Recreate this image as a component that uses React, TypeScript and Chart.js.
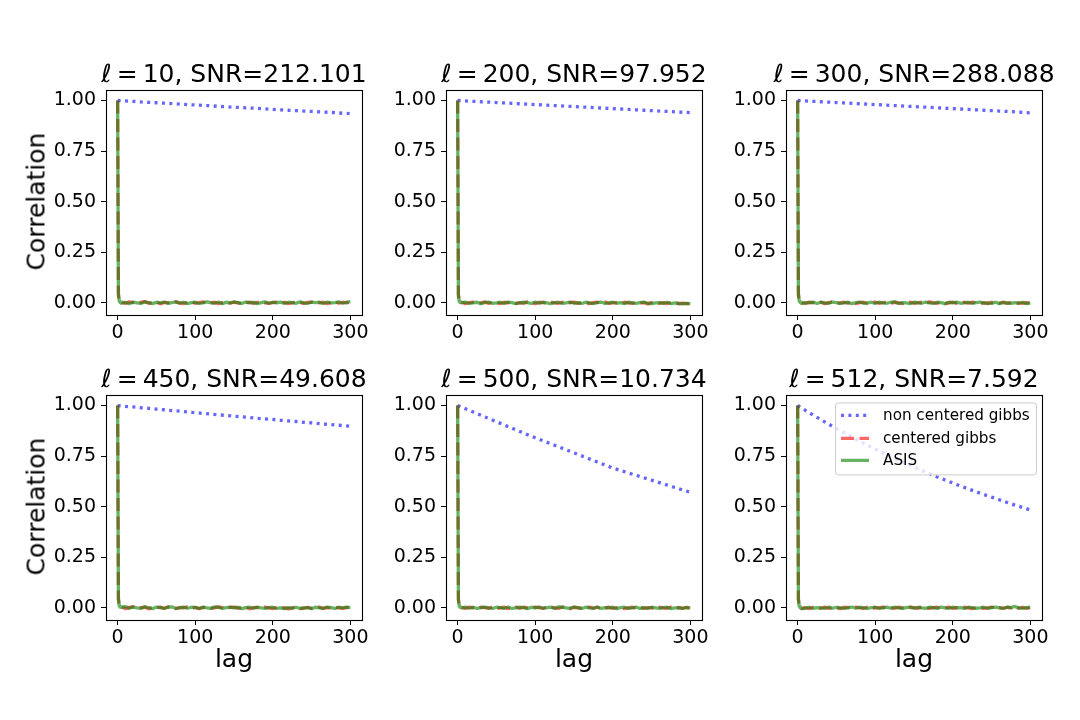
import { useEffect, useRef } from "react";
import { Chart, LineController, LineElement, PointElement, LinearScale } from "chart.js";

Chart.register(LineController, LineElement, PointElement, LinearScale);

// lags
const LAG_SLOW = [0, 10, 20, 30, 40, 50, 60, 70, 80, 90, 100, 110, 120, 130, 140, 150, 160, 170, 180, 190, 200, 210, 220, 230, 240, 250, 260, 270, 280, 290, 300];
const LAG_FAST = [0, 1, 2, 3,
  5, 10, 15, 20, 25, 30, 35, 40, 45, 50,
  55, 60, 65, 70, 75, 80, 85, 90, 95, 100,
  105, 110, 115, 120, 125, 130, 135, 140, 145, 150,
  155, 160, 165, 170, 175, 180, 185, 190, 195, 200,
  205, 210, 215, 220, 225, 230, 235, 240, 245, 250,
  255, 260, 265, 270, 275, 280, 285, 290, 295, 300];

const X_TICKS = [0, 100, 200, 300];
const Y_TICKS = [0, 0.25, 0.5, 0.75, 1];

const ELLS = [10, 200, 300, 450, 500, 512];
const SNRS = ["212.101", "97.952", "288.088", "49.608", "10.734", "7.592"];
const LABELS = ["non centered gibbs", "centered gibbs", "ASIS"];

// non centered gibbs
const NC_10 = [1.000, 0.998, 0.996, 0.993, 0.991, 0.989, 0.987, 0.985, 0.982, 0.980, 0.978, 0.976, 0.974, 0.971, 0.969, 0.967, 0.965, 0.963, 0.961, 0.959, 0.956, 0.954, 0.952, 0.950, 0.948, 0.946, 0.944, 0.942, 0.940, 0.937, 0.935];
const NC_200 = [1.000, 0.998, 0.996, 0.994, 0.992, 0.990, 0.988, 0.986, 0.984, 0.982, 0.980, 0.978, 0.976, 0.974, 0.972, 0.970, 0.968, 0.966, 0.964, 0.962, 0.960, 0.958, 0.956, 0.954, 0.952, 0.950, 0.948, 0.946, 0.944, 0.942, 0.940];
const NC_300 = [1.000, 0.998, 0.996, 0.994, 0.992, 0.990, 0.988, 0.986, 0.984, 0.982, 0.980, 0.978, 0.976, 0.974, 0.972, 0.970, 0.968, 0.966, 0.964, 0.962, 0.960, 0.958, 0.956, 0.954, 0.952, 0.950, 0.948, 0.946, 0.944, 0.941, 0.939];
const NC_450 = [1.000, 0.996, 0.993, 0.989, 0.986, 0.982, 0.979, 0.975, 0.972, 0.968, 0.965, 0.961, 0.958, 0.954, 0.951, 0.947, 0.944, 0.941, 0.937, 0.934, 0.931, 0.927, 0.924, 0.921, 0.917, 0.914, 0.911, 0.907, 0.904, 0.901, 0.897];
const NC_500 = [1.000, 0.984, 0.968, 0.952, 0.936, 0.920, 0.904, 0.888, 0.872, 0.856, 0.841, 0.826, 0.811, 0.796, 0.781, 0.766, 0.751, 0.736, 0.721, 0.706, 0.691, 0.679, 0.667, 0.655, 0.643, 0.631, 0.619, 0.607, 0.595, 0.583, 0.571];
const NC_512 = [1.000, 0.976, 0.953, 0.930, 0.908, 0.886, 0.865, 0.844, 0.824, 0.804, 0.785, 0.766, 0.748, 0.730, 0.713, 0.696, 0.679, 0.663, 0.647, 0.632, 0.617, 0.602, 0.588, 0.574, 0.560, 0.547, 0.534, 0.521, 0.508, 0.496, 0.484];

// centered gibbs
const CG_10 = [1, 0.045, 0.012, 0.004,
  0.004, -0.003, 0.005, 0.001, -0.004, 0.003, 0.006, -0.002, 0.000, 0.004,
  -0.005, 0.002, 0.001, -0.003, 0.005, 0.000, -0.004, 0.003, 0.004, -0.002,
  0.001, 0.005, -0.003, 0.000, 0.003, -0.004, 0.001, 0.004, -0.002, 0.003,
  0.000, -0.005, 0.001, 0.004, -0.003, 0.002, 0.005, 0.000, -0.003, 0.001,
  0.004, -0.002, 0.003, -0.004, 0.000, 0.005, 0.001, -0.003, 0.002, 0.004,
  -0.002, 0.000, 0.003, -0.004, 0.001, 0.005, -0.002, 0.003, 0.000, 0.004];
const CG_200 = [1, 0.040, 0.011, 0.003,
  0.003, -0.004, 0.001, 0.004, -0.002, 0.000, 0.005, -0.003, 0.002, 0.001,
  -0.004, 0.003, 0.000, 0.004, -0.003, 0.001, -0.002, 0.005, 0.000, -0.004,
  0.003, 0.001, -0.003, 0.004, 0.000, -0.002, 0.003, -0.005, 0.001, 0.004,
  -0.003, 0.000, 0.003, -0.004, 0.001, 0.003, -0.002, 0.004, -0.003, 0.000,
  0.001, -0.004, 0.003, 0.000, -0.003, 0.004, -0.002, 0.001, -0.005, 0.002,
  0.000, -0.003, 0.001, -0.004, 0.002, 0.000, -0.005, -0.001, -0.004, -0.003];
const CG_300 = [1, 0.044, 0.013, 0.005,
  0.001, -0.003, 0.004, 0.000, -0.002, 0.003, -0.004, 0.001, 0.005, -0.003,
  0.000, 0.003, -0.002, 0.004, -0.004, 0.001, 0.003, -0.003, 0.000, 0.004,
  -0.002, 0.001, 0.005, -0.003, 0.003, 0.000, -0.004, 0.001, 0.004, -0.002,
  0.000, 0.003, -0.003, 0.005, 0.001, -0.002, 0.003, -0.004, 0.000, 0.004,
  -0.003, 0.001, 0.003, -0.002, 0.004, 0.000, -0.003, 0.001, -0.004, 0.003,
  0.000, -0.002, 0.004, -0.003, 0.001, -0.004, 0.000, -0.003, 0.001, -0.002];
const CG_450 = [1, 0.046, 0.014, 0.006,
  0.005, -0.004, 0.002, 0.006, -0.003, 0.001, 0.004, -0.005, 0.002, 0.000,
  0.004, -0.003, 0.005, 0.001, -0.004, 0.002, 0.000, 0.005, -0.002, 0.003,
  -0.004, 0.001, 0.004, -0.003, 0.000, 0.005, 0.001, -0.004, 0.002, 0.004,
  -0.002, 0.000, 0.004, -0.005, 0.002, 0.001, -0.003, 0.004, 0.000, -0.004,
  0.003, -0.002, 0.001, -0.005, 0.000, 0.003, -0.004, -0.002, 0.003, -0.003,
  0.000, 0.004, -0.003, 0.001, -0.002, 0.003, 0.000, -0.003, 0.001, 0.003];
const CG_500 = [1, 0.042, 0.012, 0.004,
  0.003, -0.003, 0.004, 0.000, -0.004, 0.003, 0.001, -0.002, 0.004, -0.003,
  0.000, 0.003, -0.004, 0.001, 0.004, -0.002, 0.003, 0.000, -0.003, 0.004,
  0.001, -0.002, 0.003, 0.005, 0.000, -0.003, 0.004, 0.001, -0.004, 0.003,
  0.000, -0.003, 0.001, 0.004, -0.002, 0.003, -0.005, 0.000, 0.003, -0.003,
  0.001, 0.004, -0.004, 0.000, 0.003, -0.002, 0.004, -0.003, 0.001, 0.000,
  -0.004, 0.003, 0.000, -0.002, 0.004, -0.003, 0.001, -0.002, 0.003, -0.003];
const CG_512 = [1, 0.044, 0.011, 0.003,
  -0.003, 0.001, -0.004, 0.003, 0.000, -0.002, 0.004, -0.003, 0.001, 0.000,
  -0.004, 0.003, 0.001, -0.003, 0.004, 0.000, -0.002, 0.003, -0.004, 0.001,
  0.000, 0.004, -0.003, 0.001, -0.002, 0.003, 0.000, -0.004, 0.003, 0.001,
  -0.002, 0.004, 0.000, -0.003, 0.001, 0.003, -0.002, 0.000, 0.004, -0.003,
  0.001, -0.002, 0.003, 0.000, -0.004, 0.001, 0.003, -0.003, 0.000, 0.004,
  -0.002, 0.001, -0.003, 0.003, 0.000, 0.005, -0.002, 0.003, -0.002, 0.001];

// ASIS
const AS_10 = [1, 0.042, 0.010, 0.003,
  -0.002, 0.003, -0.004, 0.004, 0.000, -0.003, 0.005, 0.001, -0.004, 0.003,
  0.000, 0.004, -0.003, 0.001, 0.005, -0.002, 0.003, -0.004, 0.001, 0.004,
  -0.003, 0.000, 0.005, 0.001, -0.002, 0.004, -0.004, 0.003, 0.000, 0.005,
  0.001, -0.003, 0.004, 0.000, 0.003, -0.004, 0.001, 0.005, -0.002, 0.003,
  0.000, 0.004, -0.003, 0.003, 0.001, -0.002, 0.005, 0.000, -0.003, 0.004,
  0.001, 0.003, -0.003, 0.004, 0.000, 0.001, 0.005, -0.002, 0.003, 0.006];
const AS_200 = [1, 0.038, 0.009, 0.002,
  0.001, 0.004, -0.003, 0.000, 0.003, -0.004, 0.001, 0.004, -0.002, 0.000,
  0.003, -0.003, 0.004, 0.001, -0.004, 0.000, 0.003, 0.001, -0.003, 0.004,
  -0.002, 0.003, 0.000, -0.004, 0.001, 0.003, -0.003, 0.000, 0.004, -0.002,
  0.001, -0.003, 0.003, 0.000, -0.004, 0.001, 0.004, -0.003, 0.000, 0.003,
  -0.002, 0.001, -0.004, 0.003, 0.000, -0.003, 0.001, 0.004, -0.002, -0.004,
  0.000, 0.001, -0.003, 0.003, -0.004, 0.000, -0.002, -0.005, -0.003, -0.004];
const AS_300 = [1, 0.041, 0.010, 0.003,
  -0.003, 0.001, 0.000, 0.004, -0.003, 0.003, 0.000, -0.002, 0.004, 0.001,
  -0.003, 0.000, 0.003, -0.004, 0.001, 0.004, -0.002, 0.000, 0.003, -0.003,
  0.004, 0.000, -0.002, 0.003, 0.005, -0.003, 0.001, 0.000, -0.004, 0.003,
  0.001, -0.002, 0.004, 0.000, -0.003, 0.003, 0.001, -0.004, 0.003, 0.000,
  0.004, -0.002, 0.000, 0.003, -0.003, 0.001, 0.004, -0.002, 0.000, -0.003,
  0.003, -0.004, 0.001, 0.000, -0.003, 0.001, -0.002, 0.003, -0.004, 0.000];
const AS_450 = [1, 0.043, 0.011, 0.004,
  0.003, 0.006, -0.002, 0.004, 0.000, -0.003, 0.005, 0.001, -0.004, 0.004,
  0.001, -0.002, 0.003, 0.005, -0.003, 0.000, 0.004, -0.002, 0.003, 0.001,
  -0.003, 0.004, 0.000, -0.002, 0.005, 0.003, -0.003, 0.001, 0.004, 0.000,
  0.003, -0.004, 0.001, 0.003, -0.002, 0.004, 0.000, -0.003, 0.001, 0.003,
  -0.003, 0.000, -0.004, 0.001, -0.002, 0.003, -0.003, 0.000, 0.001, -0.004,
  0.003, 0.000, -0.002, 0.004, 0.001, -0.003, 0.003, 0.000, 0.004, 0.001];
const AS_500 = [1, 0.040, 0.010, 0.003,
  0.000, 0.004, -0.002, 0.003, -0.003, 0.001, 0.004, 0.000, -0.003, 0.003,
  0.001, -0.002, 0.004, -0.003, 0.000, 0.003, 0.001, -0.004, 0.003, 0.000,
  0.004, -0.002, 0.001, 0.003, -0.003, 0.005, 0.003, 0.000, -0.002, 0.004,
  0.001, -0.003, 0.003, 0.000, -0.002, 0.004, -0.003, 0.001, 0.000, 0.003,
  -0.004, 0.001, 0.003, -0.002, 0.000, 0.004, -0.003, 0.001, -0.002, 0.003,
  0.000, -0.003, 0.001, 0.003, -0.004, 0.000, 0.001, -0.003, 0.001, 0.000];
const AS_512 = [1, 0.041, 0.009, 0.002,
  -0.004, -0.002, 0.003, -0.003, 0.001, 0.000, -0.003, 0.004, -0.002, 0.003,
  0.000, -0.003, 0.001, 0.004, -0.002, 0.003, 0.000, -0.003, 0.001, 0.003,
  -0.002, 0.000, 0.004, -0.002, 0.003, 0.000, -0.003, 0.001, 0.004, -0.002,
  0.003, 0.000, -0.002, 0.003, 0.001, -0.003, 0.004, 0.000, -0.002, 0.003,
  0.000, 0.001, -0.003, 0.003, 0.001, -0.002, 0.000, 0.003, -0.002, 0.001,
  0.004, 0.000, -0.002, 0.003, 0.001, 0.007, 0.000, -0.002, 0.001, 0.003];

const NC = [NC_10, NC_200, NC_300, NC_450, NC_500, NC_512];
const CG = [CG_10, CG_200, CG_300, CG_450, CG_500, CG_512];
const AS = [AS_10, AS_200, AS_300, AS_450, AS_500, AS_512];

const BLUE = "rgba(0,0,255,0.6)";
const RED = "rgba(255,0,0,0.6)";
const GREEN = "rgba(0,128,0,0.6)";
const LW = 3.3;
const DOT = [3, 4.4];
const DASH = [13, 5.5];

// layout (px)
const COL_LEFT = [106, 446, 786];
const ROW_TOP = [88, 393];
const PLOT_W = 256;
const PLOT_H = 227;
const Y_AXIS_W = 70;
const X_AXIS_H = 36;
const PAD_TOP = 14;
const PAD_R = 30;
const CW = Y_AXIS_W + PLOT_W + PAD_R;
const CH = PAD_TOP + PLOT_H + X_AXIS_H;

const FONT = "DejaVu Sans";

const pts = (xs: number[], ys: number[]) => xs.map((x, i) => ({ x, y: ys[i] }));

const framePlugin = {
  id: "frame",
  afterDraw(chart: any) {
    const { ctx, chartArea: a } = chart;
    ctx.save();
    ctx.strokeStyle = "#000";
    ctx.lineWidth = 1.1;
    ctx.strokeRect(Math.round(a.left) + 0.5, Math.round(a.top) + 0.5, Math.round(a.right - a.left), Math.round(a.bottom - a.top));
    ctx.restore();
  },
};

const legendPlugin = {
  id: "boxLegend",
  afterDraw(chart: any) {
    const { ctx, chartArea: a } = chart;
    const w = 201, h = 72;
    const x0 = a.right - 207, y0 = a.top + 7;
    ctx.save();
    ctx.beginPath();
    ctx.roundRect(x0 + 0.5, y0 + 0.5, w, h, 3);
    ctx.fillStyle = "rgba(255,255,255,0.8)";
    ctx.fill();
    ctx.strokeStyle = "#cccccc";
    ctx.lineWidth = 1;
    ctx.stroke();
    const styles = [
      { c: BLUE, d: DOT },
      { c: RED, d: DASH },
      { c: GREEN, d: [] as number[] },
    ];
    const rows = [13, 36, 58];
    ctx.font = `15.2px "${FONT}"`;
    ctx.textBaseline = "middle";
    styles.forEach((s, i) => {
      const y = y0 + rows[i];
      ctx.beginPath();
      ctx.setLineDash(s.d);
      ctx.strokeStyle = s.c;
      ctx.lineWidth = LW;
      ctx.moveTo(x0 + 6, y);
      ctx.lineTo(x0 + 34, y);
      ctx.stroke();
      ctx.setLineDash([]);
      ctx.fillStyle = "#000";
      ctx.fillText(LABELS[i], x0 + 48, y + 1);
    });
    ctx.restore();
  },
};

function Panel({ idx }: { idx: number }) {
  const ref = useRef<HTMLCanvasElement>(null);
  const col = idx % 3;
  const row = Math.floor(idx / 3);
  const left = COL_LEFT[col];
  const top = ROW_TOP[row];

  useEffect(() => {
    if (!ref.current) return;
    const tickFont = { family: FONT, size: 19 };
    const chart = new Chart(ref.current, {
      type: "line",
      data: {
        datasets: [
          { label: LABELS[0], data: pts(LAG_SLOW, NC[idx]), borderColor: BLUE, borderWidth: LW, borderDash: DOT, pointRadius: 0, order: 2 },
          { label: LABELS[1], data: pts(LAG_FAST, CG[idx]), borderColor: RED, borderWidth: LW, borderDash: DASH, pointRadius: 0, order: 1 },
          { label: LABELS[2], data: pts(LAG_FAST, AS[idx]), borderColor: GREEN, borderWidth: LW, pointRadius: 0, order: 0 },
        ],
      },
      options: {
        animation: false,
        responsive: false,
        events: [],
        layout: { padding: { top: PAD_TOP, right: PAD_R, left: 0, bottom: 0 } },
        elements: { line: { tension: 0, borderJoinStyle: "round", fill: false } },
        plugins: { legend: { display: false }, tooltip: { enabled: false } },
        scales: {
          x: {
            type: "linear",
            min: -15,
            max: 315,
            afterBuildTicks: (s: any) => { s.ticks = X_TICKS.map((v) => ({ value: v })); },
            afterFit: (s: any) => { s.height = X_AXIS_H; },
            ticks: { font: tickFont, color: "#000", padding: 2, maxRotation: 0, autoSkip: false, callback: (v: any) => String(v) },
            grid: { drawOnChartArea: false, drawTicks: true, tickLength: 5, color: "#000", lineWidth: 1 },
            border: { display: true, color: "#000", width: 1 },
          },
          y: {
            type: "linear",
            min: -0.06,
            max: 1.05,
            afterBuildTicks: (s: any) => { s.ticks = Y_TICKS.map((v) => ({ value: v })); },
            afterFit: (s: any) => { s.width = Y_AXIS_W; },
            ticks: { font: tickFont, color: "#000", padding: 5, autoSkip: false, callback: (v: any) => Number(v).toFixed(2) },
            grid: { drawOnChartArea: false, drawTicks: true, tickLength: 5, color: "#000", lineWidth: 1 },
            border: { display: true, color: "#000", width: 1 },
          },
        },
      },
      plugins: idx === 5 ? [framePlugin, legendPlugin] : [framePlugin],
    } as any);
    return () => chart.destroy();
  }, [idx]);

  const titleFs = 25;
  return (
    <>
      <canvas
        ref={ref}
        width={CW}
        height={CH}
        style={{ position: "absolute", left: left - Y_AXIS_W, top: top - PAD_TOP, width: CW, height: CH }}
      />
      <div
        style={{
          position: "absolute",
          left: left - 60,
          width: PLOT_W + 120,
          top: top - 6 - 0.846 * titleFs,
          fontSize: titleFs,
          lineHeight: 1,
          textAlign: "center",
          whiteSpace: "nowrap",
        }}
      >
        <span style={{ fontStyle: "italic" }}>ℓ</span>
        <span style={{ margin: "0 0.2em" }}>=</span>
        {ELLS[idx]}, SNR={SNRS[idx]}
      </div>
      {col === 0 && (
        <div
          style={{
            position: "absolute",
            left: 36 - 100,
            top: top + PLOT_H / 2 - 12.5,
            width: 200,
            height: 25,
            fontSize: 25,
            lineHeight: "25px",
            textAlign: "center",
            transform: "rotate(-90deg)",
          }}
        >
          Correlation
        </div>
      )}
      {row === 1 && (
        <div
          style={{
            position: "absolute",
            left: left + PLOT_W / 2 - 60,
            width: 120,
            top: 667 - 0.846 * 25,
            fontSize: 25,
            lineHeight: 1,
            textAlign: "center",
          }}
        >
          lag
        </div>
      )}
    </>
  );
}

export default function App() {
  return (
    <div
      style={{
        position: "fixed",
        left: 0,
        top: 0,
        width: 1080,
        height: 720,
        background: "#fff",
        color: "#000",
        fontFamily: `"${FONT}", sans-serif`,
        overflow: "hidden",
      }}
    >
      {[0, 1, 2, 3, 4, 5].map((i) => (
        <Panel key={i} idx={i} />
      ))}
    </div>
  );
}
